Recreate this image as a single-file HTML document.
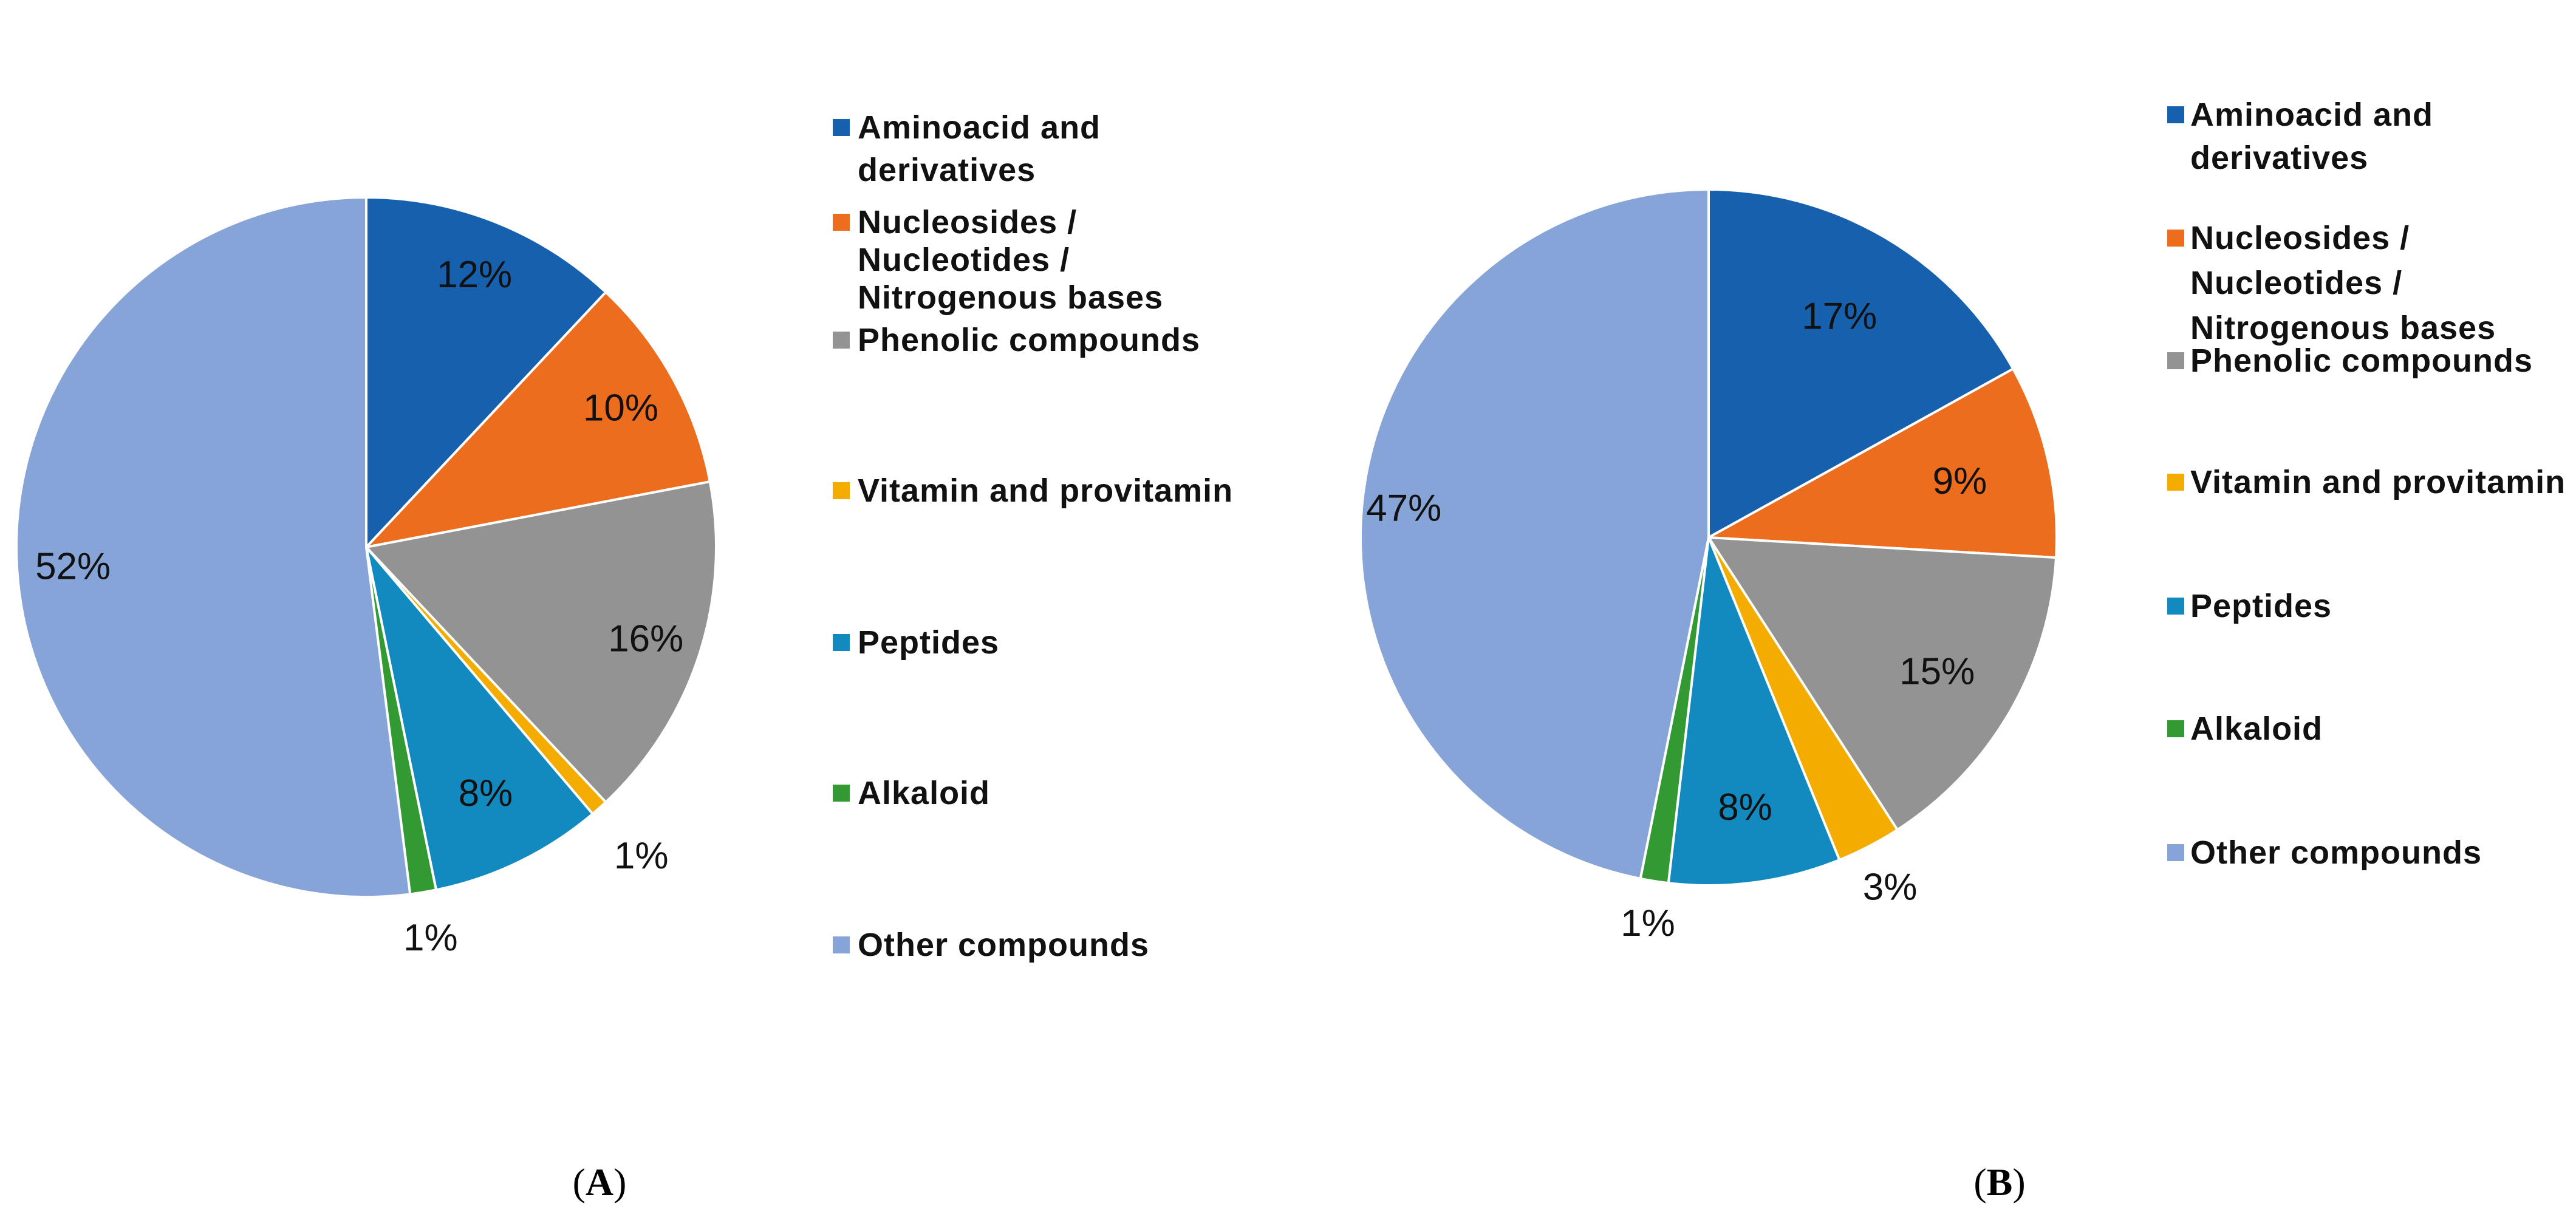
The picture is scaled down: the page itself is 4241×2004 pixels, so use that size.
<!DOCTYPE html>
<html><head><meta charset="utf-8"><style>
html,body{margin:0;padding:0;background:#fff;}
svg{display:block;}
.lg{font-family:"Liberation Sans",sans-serif;font-weight:bold;font-size:54px;letter-spacing:1px;fill:#111;}
.pl{font-family:"Liberation Sans",sans-serif;font-size:62px;fill:#111;}
.cap{font-family:"Liberation Serif",serif;font-size:64px;fill:#000;}
</style></head><body>
<svg id="chart" width="4241" height="2004" viewBox="0 0 4241 2004" xmlns="http://www.w3.org/2000/svg">
<g id="pieA"></g>
<g id="pieB"></g>
<g id="legA"></g>
<g id="legB"></g>
<text class="cap" x="987" y="1968" text-anchor="middle">(<tspan font-weight="bold">A</tspan>)</text>
<text class="cap" x="3292" y="1968" text-anchor="middle">(<tspan font-weight="bold">B</tspan>)</text>
</svg>
<script>
const categories = ["Aminoacid and derivatives","Nucleosides / Nucleotides / Nitrogenous bases","Phenolic compounds","Vitamin and provitamin","Peptides","Alkaloid","Other compounds"];
const valuesA = [12, 10, 16, 0.8, 8, 1.2, 52];
const labelsA = ["12%","10%","16%","1%","8%","1%","52%"];
const valuesB = [17, 9, 15, 3, 8, 1.3, 47];
const labelsB = ["17%","9%","15%","3%","8%","1%","47%"];
const colors = ["#1660ae","#ed6d1f","#939393","#f4ac00","#138abf","#339933","#87a4d8"];
const legendLinesA = [["Aminoacid and","derivatives"],["Nucleosides /","Nucleotides /","Nitrogenous bases"],["Phenolic compounds"],["Vitamin and provitamin"],["Peptides"],["Alkaloid"],["Other compounds"]];
const NS = "http://www.w3.org/2000/svg";

function drawPie(gid, values, labels, cx, cy, r, labelPos, name) {
  const g = document.getElementById(gid);
  const total = values.reduce((a,b)=>a+b,0);
  let a0 = 0;
  values.forEach((v,i)=>{
    const a1 = a0 + v/total*2*Math.PI;
    const x0 = cx + r*Math.sin(a0), y0 = cy - r*Math.cos(a0);
    const x1 = cx + r*Math.sin(a1), y1 = cy - r*Math.cos(a1);
    const large = (a1-a0) > Math.PI ? 1 : 0;
    const p = document.createElementNS(NS,"path");
    p.setAttribute("d",`M${cx},${cy} L${x0},${y0} A${r},${r} 0 ${large} 1 ${x1},${y1} Z`);
    p.setAttribute("fill",colors[i]);
    p.setAttribute("stroke","#fff");
    p.setAttribute("stroke-width","4");
    
    
    g.appendChild(p);
    const mid = (a0+a1)/2;
    const rr = r*labelPos[i];
    const t = document.createElementNS(NS,"text");
    t.setAttribute("class","pl");
    t.setAttribute("x", cx + rr*Math.sin(mid));
    t.setAttribute("y", cy - rr*Math.cos(mid) + 22);
    t.setAttribute("text-anchor","middle");
    t.textContent = labels[i];
    
    
    g.appendChild(t);
    a0 = a1;
  });
}
drawPie("pieA", valuesA, labelsA, 603, 901, 576, [0.84,0.83,0.84,1.18,0.78,1.13,0.84], "pie-a");
drawPie("pieB", valuesB, labelsB, 2813, 885, 573, [0.74,0.74,0.76,1.13,0.78,1.12,0.88], "pie-b");

function drawLegend(gid, sqx, tx, ys, name) {
  const g = document.getElementById(gid);
  legendLinesA.forEach((lines,i)=>{
    const e = document.createElementNS(NS,"g");
    
    
    const s = document.createElementNS(NS,"rect");
    s.setAttribute("x",sqx); s.setAttribute("y",ys[i][0]-32);
    s.setAttribute("width",28); s.setAttribute("height",28);
    s.setAttribute("fill",colors[i]);
    
    
    e.appendChild(s);
    lines.forEach((ln,j)=>{
      const t = document.createElementNS(NS,"text");
      t.setAttribute("class","lg");
      t.setAttribute("x",tx); t.setAttribute("y",ys[i][j]);
      t.textContent = ln;
      
      
      e.appendChild(t);
    });
    g.appendChild(e);
  });
}
drawLegend("legA", 1371, 1412, [[228,298],[384,446,508],[578],[826],[1076],[1324],[1574]], "legend-a");
drawLegend("legB", 3568, 3606, [[207,278],[410,484,558],[612],[812],[1016],[1218],[1422]], "legend-b");
</script>
</body></html>
